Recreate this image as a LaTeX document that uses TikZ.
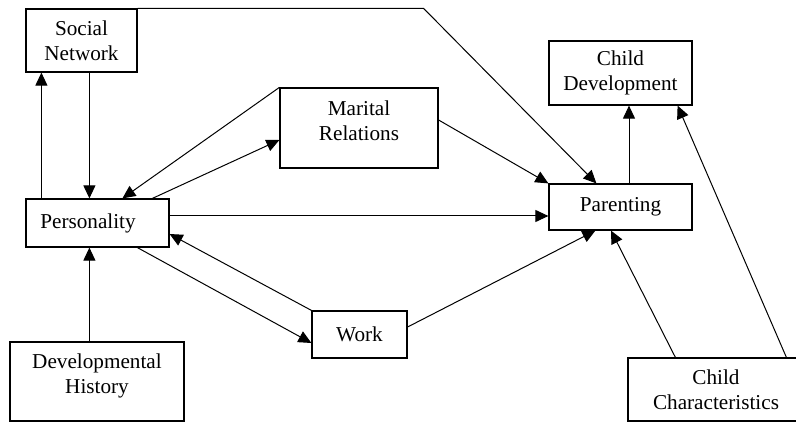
\documentclass[tikz,border=0pt]{standalone}
\usepackage{fontspec}
\setmainfont{Liberation Serif}
\usetikzlibrary{arrows.meta,positioning}
\begin{document}
\begin{tikzpicture}[x=1pt,y=-1pt,
  every node/.style={font=\fontsize{21.2}{25}\selectfont},
  box/.style={draw,line width=1.2pt,align=center,inner sep=0pt},
  arr/.style={line width=1pt,-{Triangle[length=13pt,width=12pt]}}]
\useasboundingbox (0,0) rectangle (796,422);
% boxes
\node[box,minimum width=111pt,minimum height=63pt] (sn) at (81.5,40.5) {Social\\Network};
\node[box,minimum width=143pt,minimum height=64pt] (cd) at (620.5,73) {Child\\Development};
\node[box,minimum width=158pt,minimum height=80pt,
  label={[align=center,yshift=7.5pt]center:{Marital\\Relations}}] (mr) at (359,128) {};
\node[box,minimum width=143pt,minimum height=48pt,
  label={[xshift=-9.5pt]center:Personality}] (pers) at (97.5,223) {};
\node[box,minimum width=143pt,minimum height=46pt] (par) at (620.5,207) {Parenting};
\node[box,minimum width=95pt,minimum height=47pt] (work) at (359.5,334.5) {Work};
\node[box,minimum width=174pt,minimum height=79pt,
  label={[align=center,yshift=6pt]center:{Developmental\\History}}] (dh) at (97,381.5) {};
\node[box,minimum width=176pt,minimum height=63pt] (cc) at (716,389.5) {Child\\Characteristics};
% arrows
\draw[arr] ([xshift=16pt]pers.north west) -- ([xshift=16pt]sn.south west);
\draw[arr] ([xshift=64pt]sn.south west) -- ([xshift=64pt]pers.north west);
\draw[arr] ([xshift=80pt]dh.north west) -- ([xshift=64pt]pers.south west);
\draw[arr] (sn.north east) -- ([xshift=286pt]sn.north east) -- ([xshift=48pt]par.north west);
\draw[arr] (mr.north west) -- ([xshift=97pt]pers.north west);
\draw[arr] ([xshift=127pt]pers.north west) -- ([yshift=-12pt]mr.west);
\draw[arr] ([yshift=8pt]mr.east) -- (par.north west);
\draw[arr] ([yshift=7pt]pers.east) -- ([yshift=7pt]pers.east -| par.west);
\draw[arr] ([xshift=112pt]pers.south west) -- ([yshift=-8.5pt]work.west);
\draw[arr] (work.north west) -- ([yshift=-11pt]pers.east);
\draw[arr] ([yshift=7.5pt]work.east) -- ([xshift=47pt]par.south west);
\draw[arr] ([xshift=8.5pt]par.north) -- ([xshift=8.5pt]cd.south);
\draw[arr] ([xshift=48pt]cc.north west) -- ([xshift=-9.5pt]par.south);
\draw[arr] ([xshift=159pt]cc.north west) -- ([xshift=-15pt]cd.south east);
\end{tikzpicture}
\end{document}
